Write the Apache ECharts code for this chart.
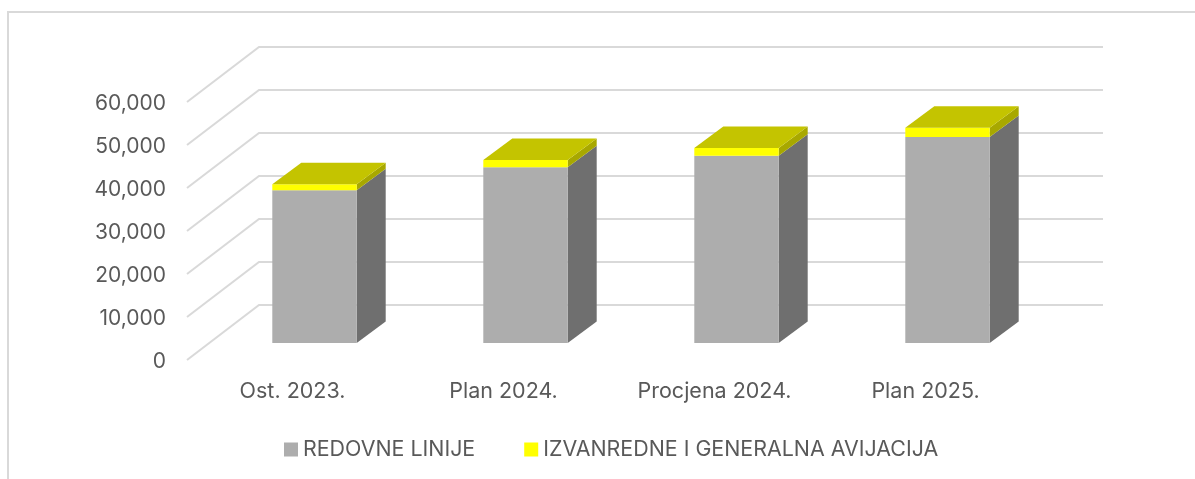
<!DOCTYPE html>
<html>
<head>
<meta charset="utf-8">
<style>
  html, body { margin: 0; padding: 0; background: #fff; }
  #chart { width: 1195px; height: 479px; }
</style>
<script src="https://cdn.jsdelivr.net/npm/echarts@6/dist/echarts.min.js"></script>
</head>
<body>
<div id="chart"></div>
<script>
const categories = ['Ost. 2023.', 'Plan 2024.', 'Procjena 2024.', 'Plan 2025.'];
const redovne = [35500, 40850, 43550, 47900];
const izvanredne = [1400, 1700, 1800, 2170];
const ticks = [0, 10000, 20000, 30000, 40000, 50000, 60000];

const FONT = 'Inter, sans-serif';
const TEXT = '#595959';
const LINE = '#d9d9d9';
// oblique floor of the fake 3D box, in px
const WALL_DX = 72, WALL_DY = 55;
const BAR_DX = 29, BAR_DY = 21.5;
const BAR_NEAR_X = 22, BAR_NEAR_Y = 17;

const chart = echarts.init(document.getElementById('chart'));

const gridLines = (params, api) => {
    const y = api.coord([0, api.value(0)])[1];
    const left = params.coordSys.x;
    const right = left + params.coordSys.width;
    const style = { stroke: LINE, lineWidth: 2, fill: 'none' };
    return {
        type: 'polyline',
        shape: { points: [[left, y], [left + WALL_DX, y - WALL_DY], [right + WALL_DX, y - WALL_DY]] },
        style,
        silent: true,
    };
};

const box = (front, side, top) => (params, api) => {
    const bottom = api.coord([api.value(0), api.value(2)]);
    const upper = api.coord([api.value(0), api.value(2) + api.value(1)]);
    const w = api.size([1, 0])[0] * 0.4;
    const x0 = bottom[0] + BAR_NEAR_X - w / 2;
    const x1 = x0 + w;
    const y0 = bottom[1] - BAR_NEAR_Y;
    const y1 = upper[1] - BAR_NEAR_Y;
    const shapes = [
        { type: 'polygon', shape: { points: [[x1, y0], [x1 + BAR_DX, y0 - BAR_DY], [x1 + BAR_DX, y1 - BAR_DY], [x1, y1]] }, style: { fill: side } },
        { type: 'polygon', shape: { points: [[x0, y0], [x1, y0], [x1, y1], [x0, y1]] }, style: { fill: front } },
    ];
    if (top) {
        shapes.push({ type: 'polygon', shape: { points: [[x0, y1], [x1, y1], [x1 + BAR_DX, y1 - BAR_DY], [x0 + BAR_DX, y1 - BAR_DY]] }, style: { fill: top } });
    }
    return { type: 'group', children: shapes };
};

const option = {
    animation: false,
    backgroundColor: '#fff',
    grid: { left: 187, right: 164, top: 102, bottom: 119 },
    legend: {
        data: ['REDOVNE LINIJE', 'IZVANREDNE I GENERALNA AVIJACIJA'],
        left: 284,
        top: 439,
        padding: 0,
        icon: 'rect',
        itemWidth: 14,
        itemHeight: 14,
        itemGap: 49,
        selectedMode: false,
        textStyle: { fontFamily: FONT, fontSize: 21.4, color: TEXT },
    },
    xAxis: {
        type: 'category',
        data: categories,
        axisLine: { show: false },
        axisTick: { show: false },
        axisLabel: { fontFamily: FONT, fontSize: 21.5, color: TEXT, margin: 21 },
    },
    yAxis: {
        type: 'value',
        min: 0,
        max: 60000,
        interval: 10000,
        axisLine: { show: false },
        axisTick: { show: false },
        splitLine: { show: false },
        axisLabel: {
            fontFamily: FONT,
            fontSize: 21,
            color: TEXT,
            margin: 21,
            // nudges the digits down onto the front edge of the gridlines
            verticalAlign: 'top',
            lineHeight: 4,
            formatter: (v) => v.toLocaleString('en-US'),
        },
    },
    series: [
        {
            type: 'custom',
            renderItem: gridLines,
            data: ticks.map((t) => [t]),
            encode: { y: 0 },
            silent: true,
            z: 1,
        },
        {
            name: 'REDOVNE LINIJE',
            type: 'custom',
            renderItem: box('#adadad', '#6f6f6f', null),
            data: redovne.map((v, i) => [i, v, 0]),
            encode: { x: 0, y: 1 },
            itemStyle: { color: '#adadad' },
            z: 2,
        },
        {
            name: 'IZVANREDNE I GENERALNA AVIJACIJA',
            type: 'custom',
            renderItem: box('#ffff00', '#a8a800', '#c4c400'),
            data: izvanredne.map((v, i) => [i, v, redovne[i]]),
            encode: { x: 0, y: [1, 2] },
            itemStyle: { color: '#ffff00' },
            z: 3,
        },
    ],
    graphic: [
        { type: 'polyline', shape: { points: [[8, 479], [8, 12], [1195, 12]] }, style: { stroke: LINE, lineWidth: 2, fill: 'none' }, silent: true },
    ],
};

chart.setOption(option);
</script>
</body>
</html>
